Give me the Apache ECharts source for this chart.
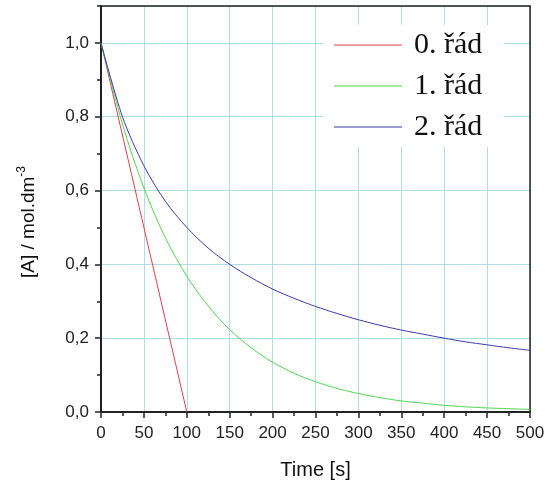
<!DOCTYPE html>
<html>
<head>
<meta charset="utf-8">
<script src="https://cdn.jsdelivr.net/npm/echarts@6/dist/echarts.min.js"></script>
<style>
  html, body { margin: 0; padding: 0; background: #fff; }
  #chart { width: 545px; height: 480px; }
</style>
</head>
<body>
<div id="chart"></div>
<script>
// Concentration of reactant A versus time for reactions of order 0, 1 and 2
const seriesNames = ['0. řád', '1. řád', '2. řád'];

// zero order: straight decline, fully consumed at 100 s
const timeZero = [0, 100];
const concZero = [1.0, 0.0];

// first and second order, sampled every 25 s
const timeSteps = [0, 25, 50, 75, 100, 125, 150, 175, 200, 225, 250,
                   275, 300, 325, 350, 375, 400, 425, 450, 475, 500];
const concFirst = [1.0, 0.78, 0.607, 0.472, 0.368, 0.287, 0.223, 0.174, 0.135, 0.105, 0.082,
                   0.064, 0.05, 0.039, 0.030, 0.024, 0.018, 0.014, 0.011, 0.009, 0.007];
const concSecond = [1.0, 0.8, 0.667, 0.571, 0.5, 0.444, 0.4, 0.364, 0.333, 0.308, 0.286,
                    0.267, 0.25, 0.235, 0.222, 0.211, 0.2, 0.19, 0.182, 0.174, 0.167];

const lineColors = ['#e0404a', '#50d850', '#3c3cae'];

function pairs(xs, ys) {
  return xs.map((x, i) => [x, ys[i]]);
}

const chart = echarts.init(document.getElementById('chart'), null, { renderer: 'canvas' });

const axisFont = 'Liberation Sans';
const gridColor = '#b0dde6';
const frame = { color: '#222', width: 1.5 };

function curve(i, xs, ys, smooth) {
  return {
    name: seriesNames[i], type: 'line', data: pairs(xs, ys),
    showSymbol: false, symbol: 'none', smooth: smooth,
    itemStyle: { color: lineColors[i] },
    lineStyle: { width: 1, color: lineColors[i] },
    z: 3
  };
}

chart.setOption({
  animation: false,
  backgroundColor: '#fff',
  color: lineColors,
  grid: { left: 101, right: 15, top: 6, bottom: 68, outerBoundsMode: 'none', containLabel: false },
  legend: {
    orient: 'vertical',
    left: 323, top: 25,
    padding: [5, 22, 5, 11],
    backgroundColor: '#fff',
    itemWidth: 68, itemHeight: 1, itemGap: 11,
    icon: 'rect',
    data: seriesNames.map((n, i) => ({ name: n, itemStyle: { color: lineColors[i] } })),
    textStyle: {
      fontFamily: 'Liberation Serif', fontSize: 30, color: '#111',
      lineHeight: 30, padding: [0, 0, 0, 7]
    }
  },
  xAxis: [
    {
      type: 'value', min: 0, max: 500, interval: 50,
      name: 'Time [s]', nameLocation: 'middle', nameGap: 48,
      nameTextStyle: { fontFamily: axisFont, fontSize: 20, color: '#111' },
      axisLine: { lineStyle: { color: '#222', width: 2 } },
      axisTick: { inside: false, length: 6, lineStyle: { color: '#222', width: 1.5 } },
      minorTick: { show: true, splitNumber: 2, length: 4, lineStyle: { color: '#222', width: 1.5 } },
      axisLabel: { fontFamily: axisFont, fontSize: 17, color: '#222', margin: 13 },
      splitLine: { show: true, lineStyle: { color: gridColor, width: 1 } }
    },
    {
      // top edge of the frame
      type: 'value', min: 0, max: 500, position: 'top',
      axisLine: { show: true, onZero: false, lineStyle: frame },
      axisTick: { show: false }, axisLabel: { show: false }, splitLine: { show: false }
    }
  ],
  yAxis: [
    {
      type: 'value', min: 0, max: 1.1, interval: 0.2,
      name: '[A] / mol.dm{sup|-3}', nameLocation: 'middle', nameGap: 60,
      nameTextStyle: {
        fontFamily: axisFont, fontSize: 19, color: '#111', lineHeight: 25,
        padding: [0, 26, 0, 0],
        rich: { sup: { fontFamily: axisFont, fontSize: 12, color: '#111', verticalAlign: 'top', lineHeight: 12 } }
      },
      axisLine: { show: true, lineStyle: { color: '#222', width: 2 } },
      axisTick: { show: true, inside: false, length: 6, lineStyle: { color: '#222', width: 1.5 } },
      axisLabel: {
        fontFamily: axisFont, fontSize: 17, color: '#222', margin: 12, showMaxLabel: false,
        formatter: v => v.toFixed(1).replace('.', ',')
      },
      splitLine: { show: true, lineStyle: { color: gridColor, width: 1 } }
    },
    {
      // minor ticks every 0.1 on the left edge
      type: 'value', min: 0, max: 1.1, interval: 0.1, position: 'left',
      axisLine: { show: false },
      axisTick: { show: true, inside: false, length: 4, lineStyle: { color: '#222', width: 1.5 } },
      axisLabel: { show: false },
      splitLine: { show: false }
    },
    {
      // right edge of the frame
      type: 'value', min: 0, max: 1.1, position: 'right',
      axisLine: { show: true, onZero: false, lineStyle: frame },
      axisTick: { show: false }, axisLabel: { show: false }, splitLine: { show: false }
    }
  ],
  series: [
    curve(0, timeZero, concZero, false),
    curve(1, timeSteps, concFirst, 0.3),
    curve(2, timeSteps, concSecond, 0.3)
  ]
});
</script>
</body>
</html>
